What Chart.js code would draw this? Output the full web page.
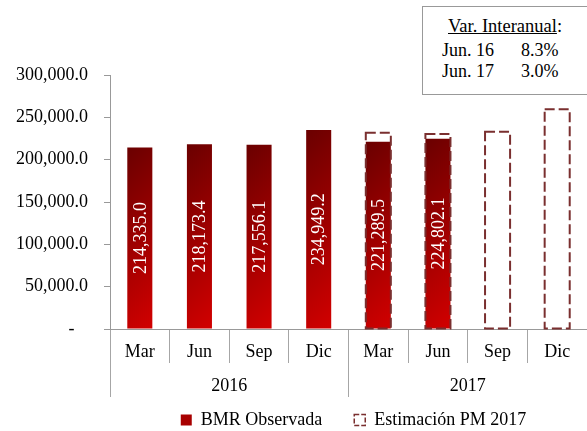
<!DOCTYPE html>
<html>
<head>
<meta charset="utf-8">
<script src="https://cdn.jsdelivr.net/npm/chart.js@4"></script>
<style>
html,body{margin:0;padding:0;overflow:hidden;background:#fff;}
#wrap{position:relative;width:587px;height:431px;}
#box{position:absolute;left:422px;top:6px;width:180px;height:87px;border:1px solid #999;background:#fff;font-family:"Liberation Serif",serif;font-size:18px;color:#000;}
#box span{position:absolute;line-height:21px;white-space:nowrap;}
</style>
</head>
<body>
<div id="wrap">
<canvas id="c" width="587" height="431"></canvas>
<div id="box">
  <span style="left:25px;top:9px;font-size:18.5px;"><u>Var. Interanual</u>:</span>
  <span style="left:19px;top:33px;">Jun. 16</span>
  <span style="left:98px;top:33px;">8.3%</span>
  <span style="left:19px;top:54px;">Jun. 17</span>
  <span style="left:98px;top:54px;">3.0%</span>
</div>
</div>
<script>
const months = ['Mar','Jun','Sep','Dic','Mar','Jun','Sep','Dic'];
const years = ['2016','2017'];
const observed = [214335.0, 218173.4, 217556.1, 234949.2, 221289.5, 224802.1, null, null];
const estimate = [null, null, null, null, 231800, 230300, 233000, 259400];
const yTicks = [0, 50000, 100000, 150000, 200000, 250000, 300000];
const seriesNames = ['BMR Observada', 'Estimación PM 2017'];

const FONT = 'Liberation Serif';
const FS = 18;
const BAR_PCT = 0.42;
const DASH_COLOR = '#7a2f2f';
const LEG_PAD = 32;
const fmt = v => v.toLocaleString('en-US', {minimumFractionDigits:1, maximumFractionDigits:1});

function gradientFor(c) {
  const chart = c.chart;
  if (!chart.chartArea || c.type !== 'data' || c.raw == null) return '#a00000';
  const xs = chart.scales.x, ys = chart.scales.y;
  const cx = xs.getPixelForValue(c.dataIndex);
  const w = xs.width / months.length * BAR_PCT;
  const top = ys.getPixelForValue(c.raw), base = ys.getPixelForValue(0);
  const h = base - top;
  const d = (w + h) / 2;
  const x0 = cx - w / 2;
  const g = chart.ctx.createLinearGradient(x0, top, x0 + d, top + d);
  g.addColorStop(0, '#6a0000');
  g.addColorStop(1, '#d20000');
  return g;
}

const labelsPlugin = {
  id: 'barLabels',
  afterDatasetsDraw(chart) {
    const ctx = chart.ctx;
    const m1 = chart.getDatasetMeta(1);
    ctx.save();
    ctx.strokeStyle = DASH_COLOR;
    ctx.lineWidth = 2;
    ctx.setLineDash([10, 4]);
    m1.data.forEach((el, i) => {
      if (estimate[i] == null) return;
      const w = el.width;
      ctx.strokeRect(el.x - w / 2, el.y, w, el.base - el.y);
    });
    ctx.restore();
    const m0 = chart.getDatasetMeta(0);
    ctx.save();
    ctx.fillStyle = '#ffffff';
    ctx.font = FS + 'px "' + FONT + '"';
    ctx.textAlign = 'center';
    ctx.textBaseline = 'middle';
    m0.data.forEach((el, i) => {
      if (observed[i] == null) return;
      ctx.save();
      ctx.translate(el.x, (el.y + el.base) / 2);
      ctx.rotate(-Math.PI / 2);
      ctx.fillText(fmt(observed[i]), 0, 1);
      ctx.restore();
    });
    ctx.restore();
  },
  afterLayout(chart) {
    const lg = chart.legend;
    if (lg) {
      lg.left = 120;
      lg.right = 587;
      lg.top = 420 - LEG_PAD - FS / 2;
      lg.bottom = chart.height;
      lg.height = lg.bottom - lg.top;
      lg.width = lg.right - lg.left;
    }
  }
};

new Chart(document.getElementById('c'), {
  type: 'bar',
  data: {
    labels: months,
    datasets: [
      { label: seriesNames[0], data: observed, backgroundColor: gradientFor, borderWidth: 0,
        barPercentage: BAR_PCT, categoryPercentage: 1, grouped: false, order: 1 },
      { label: seriesNames[1], data: estimate, backgroundColor: 'rgba(0,0,0,0)', borderWidth: 0,
        barPercentage: BAR_PCT, categoryPercentage: 1, grouped: false, order: 0 }
    ]
  },
  options: {
    responsive: false,
    animation: false,
    layout: { padding: { top: 75, right: -3, left: 0, bottom: 0 } },
    plugins: {
      tooltip: { enabled: false },
      legend: {
        position: 'bottom',
        maxHeight: 34,
        labels: {
          font: { family: FONT, size: FS },
          color: '#000',
          boxWidth: 11,
          boxHeight: 11,
          padding: LEG_PAD,
          generateLabels: () => [
            { text: seriesNames[0], fillStyle: '#a80000', strokeStyle: '#a80000', lineWidth: 0, datasetIndex: 0, hidden: false },
            { text: seriesNames[1], fillStyle: 'rgba(0,0,0,0)', strokeStyle: DASH_COLOR, lineWidth: 1.5, lineDash: [5, 2], datasetIndex: 1, hidden: false }
          ]
        }
      }
    },
    scales: {
      y: {
        min: 0, max: 300000,
        afterBuildTicks: s => { s.ticks = yTicks.map(v => ({ value: v })); },
        afterFit: s => { s.width = 110; },
        border: { color: '#999', width: 1 },
        grid: { drawOnChartArea: false, drawTicks: true, tickLength: 6, color: '#999' },
        ticks: {
          font: { family: FONT, size: FS }, color: '#000', padding: 16,
          callback: v => v === 0 ? '-   ' : fmt(v)
        }
      },
      x: {
        type: 'category',
        weight: 0,
        offset: true,
        border: { color: '#999', width: 1 },
        grid: { offset: true, drawOnChartArea: false, drawTicks: true, tickLength: 34, color: '#a6a6a6' },
        ticks: { font: { family: FONT, size: FS }, color: '#000', padding: -22, maxRotation: 0, autoSkip: false },
        afterFit: s => { s.height = 34; }
      },
      x2: {
        type: 'category',
        labels: years,
        position: 'bottom',
        weight: 1,
        offset: true,
        border: { display: false },
        grid: { offset: true, drawOnChartArea: false, drawTicks: true, tickLength: 34, color: '#a6a6a6' },
        ticks: { font: { family: FONT, size: FS }, color: '#000', padding: -22, maxRotation: 0, autoSkip: false },
        afterFit: s => { s.height = 34; }
      }
    }
  },
  plugins: [labelsPlugin]
});
</script>
</body>
</html>
